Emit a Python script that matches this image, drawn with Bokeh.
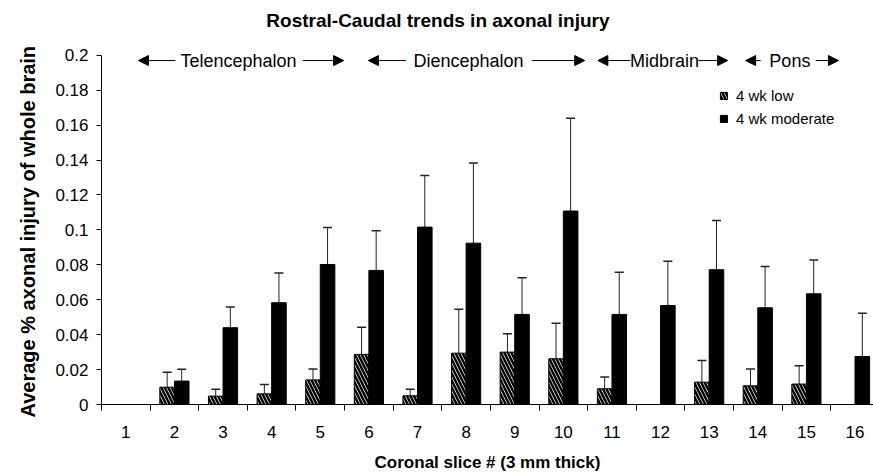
from bokeh.plotting import figure
from bokeh.models import (ColumnDataSource, FixedTicker, Whisker, TeeHead, Arrow,
                          NormalHead, LabelSet, Label, Legend, LegendItem, Title)
from bokeh.transform import dodge
from bokeh.core.properties import value
from bokeh.embed import file_html
from bokeh.resources import INLINE

# ---------------- data ----------------
slices = list(range(1, 17))
low_mean = [0, 0.0099, 0.0048, 0.0061, 0.0141, 0.0287, 0.0050, 0.0294,
            0.0300, 0.0262, 0.0090, 0, 0.0128, 0.0107, 0.0117, 0]
low_sd = [0, 0.0086, 0.0040, 0.0054, 0.0063, 0.0156, 0.0038, 0.0252,
          0.0105, 0.0204, 0.0067, 0, 0.0124, 0.0097, 0.0105, 0]
mod_mean = [0, 0.0134, 0.0440, 0.0583, 0.0802, 0.0768, 0.1016, 0.0924,
            0.0516, 0.1108, 0.0516, 0.0567, 0.0772, 0.0554, 0.0634, 0.0275]
mod_sd = [0, 0.0068, 0.0118, 0.0170, 0.0212, 0.0227, 0.0296, 0.0459,
          0.0210, 0.0532, 0.0242, 0.0253, 0.0282, 0.0237, 0.0193, 0.0248]

y_ticks = [0, 0.02, 0.04, 0.06, 0.08, 0.1, 0.12, 0.14, 0.16, 0.18, 0.2]
y_tick_labels = ["0", "0.02", "0.04", "0.06", "0.08", "0.1", "0.12",
                 "0.14", "0.16", "0.18", "0.2"]

regions = ["Telencephalon", "Diencephalon", "Midbrain", "Pons"]
region_left_tip = [1.26, 5.99, 10.71, 13.75]
region_left_line = [2.02, 6.76, 11.38, 14.06]
region_label_x = [3.32, 8.05, 12.08, 14.66]
region_right_line = [4.64, 9.35, 12.78, 15.19]
region_right_tip = [5.48, 10.44, 13.38, 15.66]
region_y = 0.197

series_labels = ["4 wk low", "4 wk moderate"]

title_text = "Rostral-Caudal trends in axonal injury"
title_x, title_y = 7.42, 0.2199   # title anchor, in axis units
x_title = "Coronal slice # (3 mm thick)"
y_title = "Average % axonal injury of whole brain"

FONT = "Liberation Sans"

# ---------------- sources ----------------
def make_src(means, sds):
    xs, ms, ups = [], [], []
    for x, m, s in zip(slices, means, sds):
        if m > 0:
            xs.append(x)
            ms.append(m)
            ups.append(m + s)
    return ColumnDataSource(dict(x=xs, mean=ms, up=ups))

low_src = make_src(low_mean, low_sd)
mod_src = make_src(mod_mean, mod_sd)

# ---------------- figure ----------------
p = figure(width=873, height=474, x_range=(0.5, 16.38), y_range=(0, 0.2314),
           output_backend="svg", toolbar_location=None,
           min_border_left=101, min_border_right=0, min_border_top=0,
           min_border_bottom=70)
p.xgrid.visible = False
p.ygrid.visible = False
p.outline_line_color = None
p.background_fill_color = "white"
p.border_fill_color = "white"

p.add_layout(Label(x=title_x, y=title_y, text=title_text,
                   text_align="center", text_baseline="middle",
                   text_font=FONT, text_font_size="19px",
                   text_font_style="bold", text_color="black"))

BW = 0.3
r_low = p.vbar(x=dodge("x", -BW / 2), top="mean", width=BW, source=low_src,
               fill_color="white", line_color="black", line_width=1,
               hatch_pattern="\\", hatch_color="black", hatch_weight=2.5,
               hatch_scale=7)
r_mod = p.vbar(x=dodge("x", BW / 2), top="mean", width=BW, source=mod_src,
               fill_color="black", line_color="black", line_width=1)

for src, off in ((low_src, -BW / 2), (mod_src, BW / 2)):
    p.add_layout(Whisker(base=dodge("x", off), lower="mean", upper="up",
                         source=src, dimension="height",
                         line_color="#222222", line_width=1,
                         upper_head=TeeHead(size=9, line_color="#222222",
                                            line_width=1.5),
                         lower_head=None))

# region arrows
arrow_src = ColumnDataSource(dict(lt=region_left_tip, ll=region_left_line,
                                  rl=region_right_line, rt=region_right_tip,
                                  lx=region_label_x, name=regions,
                                  y=[region_y] * len(regions)))
for xs, xe in (("ll", "lt"), ("rl", "rt")):
    p.add_layout(Arrow(x_start=xs, y_start="y", x_end=xe, y_end="y",
                       source=arrow_src, line_color="black", line_width=1,
                       end=NormalHead(size=10, fill_color="black",
                                      line_color="black")))
p.add_layout(LabelSet(x="lx", y="y", text="name", source=arrow_src,
                      text_align="center", text_baseline="middle",
                      text_font=value(FONT), text_font_size="18px",
                      text_color="black"))

# legend
legend = Legend(items=[LegendItem(label=series_labels[0], renderers=[r_low]),
                       LegendItem(label=series_labels[1], renderers=[r_mod])],
                location=(618, 277), border_line_color=None,
                background_fill_alpha=0, padding=0, margin=0, spacing=6,
                glyph_width=9, glyph_height=9, label_standoff=8,
                label_height=17, label_text_font=FONT,
                label_text_font_size="15px", label_text_color="black")
p.add_layout(legend)

# axes
p.yaxis.ticker = FixedTicker(ticks=y_ticks)
p.yaxis.major_label_overrides = {t: l for t, l in zip(y_ticks, y_tick_labels)}
p.yaxis.bounds = (0, 0.2)
p.yaxis.major_tick_out = 5
p.yaxis.major_tick_in = 0
p.yaxis.minor_tick_line_color = None
p.yaxis.major_label_standoff = 8

# y-axis title, placed along the 0-0.2 span of the axis
p.add_layout(Title(text=y_title, align="left", offset=-13, standoff=28,
                   text_font=FONT, text_font_size="20px",
                   text_font_style="bold", text_color="black"), "left")

p.xaxis.ticker = FixedTicker(ticks=slices, minor_ticks=[s - 0.5 for s in slices])
p.xaxis.major_tick_out = 0
p.xaxis.major_tick_in = 0
p.xaxis.minor_tick_out = 6
p.xaxis.minor_tick_in = 0
p.xaxis.minor_tick_line_color = "black"
p.xaxis.major_label_standoff = 15
p.xaxis.axis_label = x_title
p.xaxis.axis_label_standoff = 12
p.xaxis.axis_label_text_font_size = "17px"

for ax in (p.xaxis[0], p.yaxis[0]):
    ax.axis_line_color = "black"
    ax.major_tick_line_color = "black"
    ax.major_label_text_font = FONT
    ax.major_label_text_font_size = "17px"
    ax.major_label_text_color = "black"
    ax.axis_label_text_font = FONT
    ax.axis_label_text_font_style = "bold"
    ax.axis_label_text_color = "black"

open("out.html", "w").write(file_html(p, INLINE))
